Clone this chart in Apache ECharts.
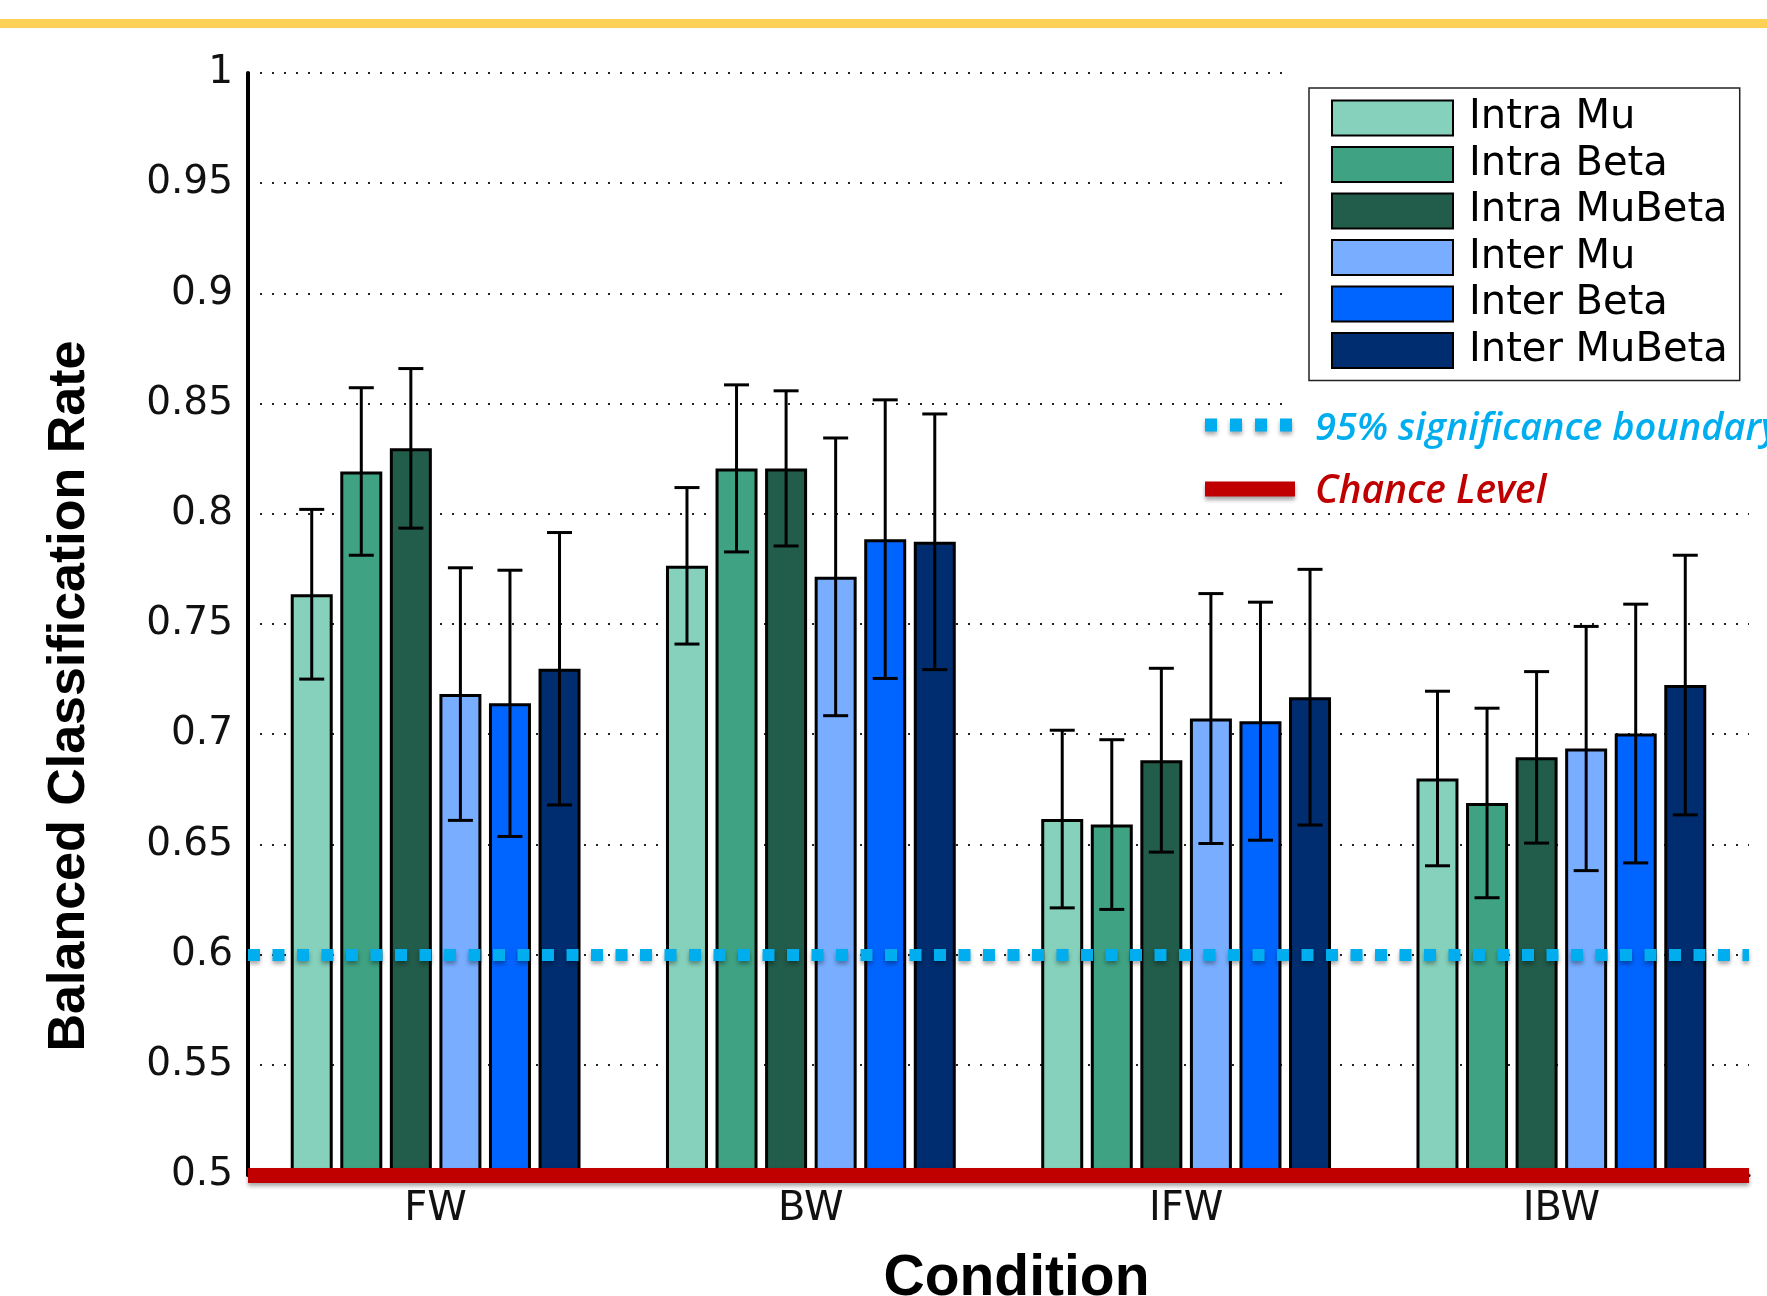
<!DOCTYPE html>
<html>
<head>
<meta charset="utf-8">
<script src="https://cdn.jsdelivr.net/npm/echarts@6/dist/echarts.min.js"></script>
<style>
  html, body { margin: 0; padding: 0; background: #fff; }
  #chart { width: 1767px; height: 1296px; }
</style>
</head>
<body>
<div id="chart"></div>
<script>
// conditions on the x axis
const categories = ["FW", "BW", "IFW", "IBW"];
const seriesNames = ["Intra Mu", "Intra Beta", "Intra MuBeta", "Inter Mu", "Inter Beta", "Inter MuBeta"];
const seriesColors = ["#86d1bb", "#3fa383", "#225c4a", "#78adff", "#0064ff", "#002d6f"];

// mean balanced classification rate per condition
const intraMu = [0.7635, 0.7764, 0.6615, 0.6799];
const intraBeta = [0.8192, 0.8206, 0.6590, 0.6688];
const intraMuBeta = [0.8297, 0.8206, 0.6882, 0.6895];
const interMu = [0.7182, 0.7714, 0.7071, 0.6935];
const interBeta = [0.7140, 0.7885, 0.7059, 0.7003];
const interMuBeta = [0.7297, 0.7873, 0.7168, 0.7223];

// half length of the error bars
const intraMuErr = [0.0385, 0.0355, 0.0403, 0.0396];
const intraBetaErr = [0.0380, 0.0379, 0.0385, 0.0430];
const intraMuBetaErr = [0.0362, 0.0352, 0.0417, 0.0389];
const interMuErr = [0.0573, 0.0630, 0.0567, 0.0554];
const interBetaErr = [0.0604, 0.0632, 0.0540, 0.0587];
const interMuBetaErr = [0.0618, 0.0580, 0.0580, 0.0589];

const means = [intraMu, intraBeta, intraMuBeta, interMu, interBeta, interMuBeta];
const errs = [intraMuErr, intraBetaErr, intraMuBetaErr, interMuErr, interBetaErr, interMuBetaErr];

// reference lines
const significance = 0.603;
const chance = 0.5;

const yMin = 0.5, yMax = 1, yStep = 0.05;

const BAR_W = 42;
const BAR_GAP = 0.18;

const chart = echarts.init(document.getElementById("chart"));

function errorSeries(k) {
  const gapPx = BAR_W * BAR_GAP;
  const groupW = seriesNames.length * BAR_W + (seriesNames.length - 1) * gapPx;
  const off = -groupW / 2 + k * (BAR_W + gapPx) + BAR_W / 2;
  return {
    type: "custom",
    z: 3,
    silent: true,
    encode: { x: 0, y: [1, 2] },
    data: means[k].map((m, i) => [i, m - errs[k][i], m + errs[k][i]]),
    renderItem: (params, api) => {
      const hi = api.coord([api.value(0), api.value(2)]);
      const lo = api.coord([api.value(0), api.value(1)]);
      const x = hi[0] + off;
      const cap = 12.5;
      const style = { stroke: "#000", lineWidth: 3 };
      return {
        type: "group",
        children: [
          { type: "line", shape: { x1: x, y1: hi[1], x2: x, y2: lo[1] }, style },
          { type: "line", shape: { x1: x - cap, y1: hi[1], x2: x + cap, y2: hi[1] }, style },
          { type: "line", shape: { x1: x - cap, y1: lo[1], x2: x + cap, y2: lo[1] }, style }
        ]
      };
    }
  };
}

const barSeries = seriesNames.map((name, k) => ({
  name,
  type: "bar",
  barWidth: BAR_W,
  barGap: (BAR_GAP * 100) + "%",
  data: means[k],
  itemStyle: { color: seriesColors[k], borderColor: "#000", borderWidth: 3 },
  emphasis: { disabled: true }
}));

const lineShadow = { shadowBlur: 4, shadowColor: "rgba(0,0,0,0.35)", shadowOffsetY: 3 };

const option = {
  animation: false,
  backgroundColor: "#fff",
  grid: { left: 248, right: 18, top: 73, bottom: 121, outerBoundsMode: "none", containLabel: false },
  legend: {
    data: seriesNames,
    orient: "vertical",
    left: 1309,
    top: 88,
    padding: [10, 12, 10, 22],
    itemWidth: 121,
    itemHeight: 35,
    itemGap: 6.5,
    borderColor: "#222",
    borderWidth: 1.5,
    backgroundColor: "#fff",
    icon: "rect",
    selectedMode: false,
    textStyle: { fontFamily: "DejaVu Sans", fontSize: 40, color: "#000", padding: [0, 0, 0, 11] }
  },
  xAxis: {
    type: "category",
    data: categories,
    axisLine: { lineStyle: { color: "#000", width: 3 } },
    axisTick: { show: false },
    axisLabel: { fontFamily: "DejaVu Sans", fontSize: 40, color: "#111", margin: 15 },
    name: "Condition",
    nameLocation: "middle",
    nameGap: 76,
    nameTextStyle: {
      fontFamily: "'Liberation Sans Narrow', 'Liberation Sans', Arial",
      fontWeight: "bold", fontSize: 57, color: "#000", padding: [0, 0, 0, 36]
    }
  },
  yAxis: {
    type: "value",
    min: yMin,
    max: yMax,
    interval: yStep,
    axisLine: { show: true, lineStyle: { color: "#000", width: 4 } },
    axisTick: { show: false },
    axisLabel: {
      fontFamily: "DejaVu Sans", fontSize: 39, color: "#111", margin: 15,
      showMinLabel: true, showMaxLabel: true,
      formatter: (v) => String(Number(v.toFixed(2)))
    },
    splitLine: { show: true, lineStyle: { color: "#222", width: 2, type: [2, 10] } },
    name: "Balanced Classification Rate",
    nameLocation: "middle",
    nameGap: 152,
    nameTextStyle: {
      fontFamily: "'Liberation Sans', Arial", fontWeight: "bold", fontSize: 52, color: "#000",
      padding: [0, 144, 0, 0]
    }
  },
  graphic: [
    { type: "rect", left: 0, top: 19, shape: { width: 1767, height: 9 }, style: { fill: "#fdd155" }, z: 1 },
    { type: "rect", left: 1292, top: 45, shape: { width: 475, height: 455 }, style: { fill: "#fff" }, z: 1 },
    {
      type: "line", z: 10,
      shape: { x1: 1205, y1: 425, x2: 1293, y2: 425 },
      style: Object.assign({ stroke: "#00aeef", lineWidth: 13, lineDash: [12, 13] }, lineShadow)
    },
    {
      type: "text", z: 10, left: 1315, top: 410,
      style: { text: "95% significance boundary", fill: "#00aeef", fontFamily: "'Open Sans'", fontStyle: "italic", fontWeight: 600, fontSize: 38 }
    },
    {
      type: "line", z: 10,
      shape: { x1: 1205, y1: 489, x2: 1295, y2: 489 },
      style: Object.assign({ stroke: "#c00000", lineWidth: 15 }, lineShadow)
    },
    {
      type: "text", z: 10, left: 1315, top: 472,
      style: { text: "Chance Level", fill: "#c00000", fontFamily: "'Open Sans'", fontStyle: "italic", fontWeight: 600, fontSize: 39 }
    }
  ],
  series: [
    ...barSeries,
    ...seriesNames.map((_, k) => errorSeries(k)),
    {
      type: "line",
      z: 5,
      data: [],
      silent: true,
      markLine: {
        silent: true,
        symbol: "none",
        label: { show: false },
        data: [
          { yAxis: significance, lineStyle: Object.assign({ color: "#00aeef", width: 12, type: [12, 12.5] }, lineShadow) },
          { yAxis: chance, lineStyle: Object.assign({ color: "#c00000", width: 15, type: "solid" }, lineShadow) }
        ]
      }
    }
  ]
};

chart.setOption(option);
</script>
</body>
</html>
